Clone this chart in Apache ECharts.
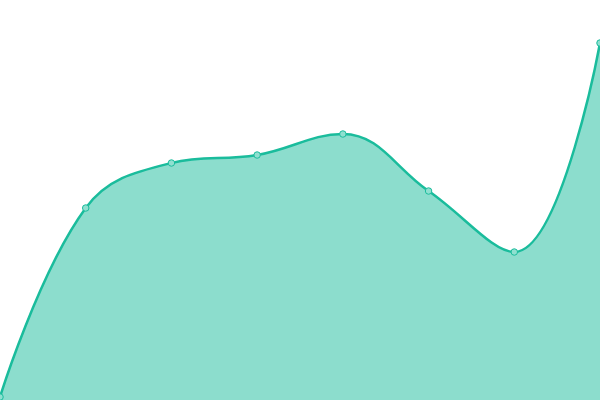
<!DOCTYPE html>
<html><head><meta charset="utf-8">
<script src="https://cdn.jsdelivr.net/npm/echarts@6/dist/echarts.min.js"></script>
<style>html,body{margin:0;padding:0;background:#fff}#c{width:600px;height:400px}</style>
</head><body><div id="c"></div>
<script>
const categories = ['A','B','C','D','E','F','G','H'];
const values = [3, 192, 237, 245, 266, 209, 148, 357];
const chart = echarts.init(document.getElementById('c'));
chart.setOption({
  animation: false,
  grid: {left: 0, right: 0, top: 0, bottom: 0},
  xAxis: {type: 'category', data: categories, boundaryGap: false, show: false},
  yAxis: {type: 'value', min: 0, max: 400, show: false},
  series: [{
    type: 'line',
    data: values,
    smooth: 0.4,
    symbol: 'circle',
    symbolSize: 6.5,
    lineStyle: {color: '#1abc9c', width: 2.5},
    itemStyle: {color: '#8fe0d0', borderColor: '#1abc9c', borderWidth: 1},
    areaStyle: {color: '#1abc9c', opacity: 0.5}
  }]
});
</script></body></html>
